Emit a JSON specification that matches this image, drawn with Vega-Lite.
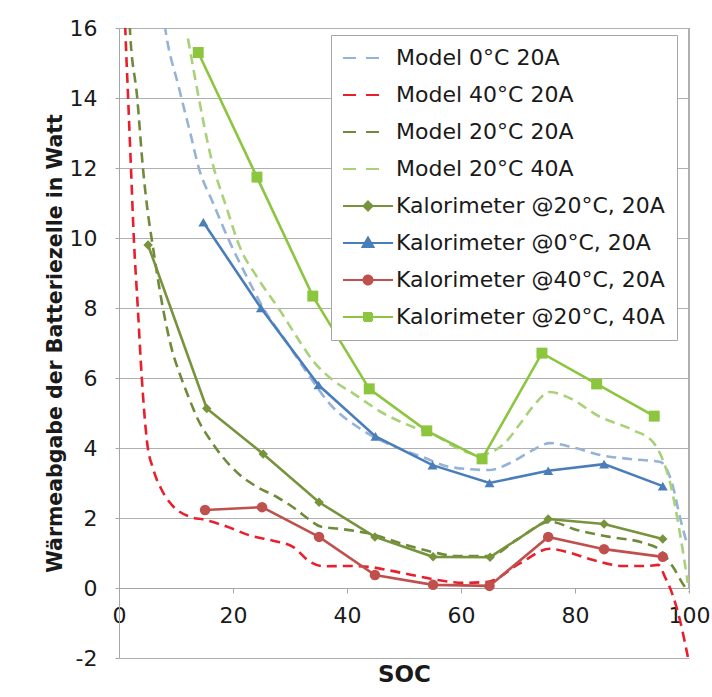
{
  "$schema": "https://vega.github.io/schema/vega-lite/v6.json",
  "autosize": {"type": "none"},
  "width": 570,
  "height": 630,
  "padding": {"left": 119, "top": 28, "right": 23, "bottom": 39},
  "background": "white",
  "config": {
    "font": "DejaVu Sans",
    "view": {"stroke": null},
    "axis": {"labelFont": "DejaVu Sans", "titleFont": "DejaVu Sans", "labelColor": "#1a1a1a", "titleColor": "#1a1a1a"}
  },
  "data": {
    "values": [
      {"s": "Model 0°C 20A", "soc": 7.3, "w": 17},
      {"s": "Model 0°C 20A", "soc": 8.1, "w": 16},
      {"s": "Model 0°C 20A", "soc": 10.5, "w": 14.3},
      {"s": "Model 0°C 20A", "soc": 12.5, "w": 13.0},
      {"s": "Model 0°C 20A", "soc": 14.0, "w": 12.0},
      {"s": "Model 0°C 20A", "soc": 16.5, "w": 11.0},
      {"s": "Model 0°C 20A", "soc": 19.5, "w": 9.86},
      {"s": "Model 0°C 20A", "soc": 22.4, "w": 8.9},
      {"s": "Model 0°C 20A", "soc": 25.3, "w": 8.0},
      {"s": "Model 0°C 20A", "soc": 29.5, "w": 7.0},
      {"s": "Model 0°C 20A", "soc": 33.5, "w": 6.03},
      {"s": "Model 0°C 20A", "soc": 36.5, "w": 5.35},
      {"s": "Model 0°C 20A", "soc": 42.8, "w": 4.5},
      {"s": "Model 0°C 20A", "soc": 47.5, "w": 4.1},
      {"s": "Model 0°C 20A", "soc": 53.3, "w": 3.74},
      {"s": "Model 0°C 20A", "soc": 58.0, "w": 3.46},
      {"s": "Model 0°C 20A", "soc": 65.0, "w": 3.37},
      {"s": "Model 0°C 20A", "soc": 68.6, "w": 3.57},
      {"s": "Model 0°C 20A", "soc": 72.6, "w": 3.94},
      {"s": "Model 0°C 20A", "soc": 75.6, "w": 4.14},
      {"s": "Model 0°C 20A", "soc": 80.0, "w": 4.0},
      {"s": "Model 0°C 20A", "soc": 84.4, "w": 3.8},
      {"s": "Model 0°C 20A", "soc": 90.0, "w": 3.68},
      {"s": "Model 0°C 20A", "soc": 95.0, "w": 3.6},
      {"s": "Model 0°C 20A", "soc": 97.2, "w": 2.89},
      {"s": "Model 0°C 20A", "soc": 98.4, "w": 2.03},
      {"s": "Model 0°C 20A", "soc": 99.6, "w": 1.29},

      {"s": "Model 40°C 20A", "soc": 0.9, "w": 17},
      {"s": "Model 40°C 20A", "soc": 1.1, "w": 16},
      {"s": "Model 40°C 20A", "soc": 1.6, "w": 14},
      {"s": "Model 40°C 20A", "soc": 2.1, "w": 12},
      {"s": "Model 40°C 20A", "soc": 2.6, "w": 10},
      {"s": "Model 40°C 20A", "soc": 3.3, "w": 8},
      {"s": "Model 40°C 20A", "soc": 4.0, "w": 6},
      {"s": "Model 40°C 20A", "soc": 4.9, "w": 4.2},
      {"s": "Model 40°C 20A", "soc": 6.0, "w": 3.4},
      {"s": "Model 40°C 20A", "soc": 7.5, "w": 2.8},
      {"s": "Model 40°C 20A", "soc": 9.3, "w": 2.37},
      {"s": "Model 40°C 20A", "soc": 12.5, "w": 2.03},
      {"s": "Model 40°C 20A", "soc": 15.0, "w": 1.95},
      {"s": "Model 40°C 20A", "soc": 19.0, "w": 1.75},
      {"s": "Model 40°C 20A", "soc": 23.0, "w": 1.5},
      {"s": "Model 40°C 20A", "soc": 27.0, "w": 1.35},
      {"s": "Model 40°C 20A", "soc": 30.6, "w": 1.17},
      {"s": "Model 40°C 20A", "soc": 33.5, "w": 0.75},
      {"s": "Model 40°C 20A", "soc": 36.0, "w": 0.62},
      {"s": "Model 40°C 20A", "soc": 40.0, "w": 0.63},
      {"s": "Model 40°C 20A", "soc": 44.0, "w": 0.6},
      {"s": "Model 40°C 20A", "soc": 47.5, "w": 0.5},
      {"s": "Model 40°C 20A", "soc": 51.4, "w": 0.37},
      {"s": "Model 40°C 20A", "soc": 55.8, "w": 0.23},
      {"s": "Model 40°C 20A", "soc": 60.4, "w": 0.15},
      {"s": "Model 40°C 20A", "soc": 64.5, "w": 0.17},
      {"s": "Model 40°C 20A", "soc": 70.4, "w": 0.71},
      {"s": "Model 40°C 20A", "soc": 75.6, "w": 1.12},
      {"s": "Model 40°C 20A", "soc": 78.6, "w": 1.03},
      {"s": "Model 40°C 20A", "soc": 83.2, "w": 0.8},
      {"s": "Model 40°C 20A", "soc": 88.4, "w": 0.63},
      {"s": "Model 40°C 20A", "soc": 92.6, "w": 0.63},
      {"s": "Model 40°C 20A", "soc": 94.6, "w": 0.66},
      {"s": "Model 40°C 20A", "soc": 95.8, "w": 0.31},
      {"s": "Model 40°C 20A", "soc": 97.0, "w": -0.14},
      {"s": "Model 40°C 20A", "soc": 98.4, "w": -0.91},
      {"s": "Model 40°C 20A", "soc": 99.3, "w": -1.57},
      {"s": "Model 40°C 20A", "soc": 99.8, "w": -1.97},

      {"s": "Model 20°C 20A", "soc": 1.6, "w": 17},
      {"s": "Model 20°C 20A", "soc": 1.9, "w": 16},
      {"s": "Model 20°C 20A", "soc": 3.2, "w": 14},
      {"s": "Model 20°C 20A", "soc": 4.2, "w": 12},
      {"s": "Model 20°C 20A", "soc": 5.0, "w": 10.8},
      {"s": "Model 20°C 20A", "soc": 5.9, "w": 9.8},
      {"s": "Model 20°C 20A", "soc": 7.7, "w": 8.0},
      {"s": "Model 20°C 20A", "soc": 9.3, "w": 6.8},
      {"s": "Model 20°C 20A", "soc": 10.7, "w": 6.1},
      {"s": "Model 20°C 20A", "soc": 12.1, "w": 5.5},
      {"s": "Model 20°C 20A", "soc": 13.9, "w": 4.8},
      {"s": "Model 20°C 20A", "soc": 16.0, "w": 4.23},
      {"s": "Model 20°C 20A", "soc": 18.2, "w": 3.74},
      {"s": "Model 20°C 20A", "soc": 21.2, "w": 3.23},
      {"s": "Model 20°C 20A", "soc": 24.2, "w": 2.89},
      {"s": "Model 20°C 20A", "soc": 27.7, "w": 2.6},
      {"s": "Model 20°C 20A", "soc": 31.2, "w": 2.23},
      {"s": "Model 20°C 20A", "soc": 33.0, "w": 2.0},
      {"s": "Model 20°C 20A", "soc": 35.5, "w": 1.75},
      {"s": "Model 20°C 20A", "soc": 38.8, "w": 1.69},
      {"s": "Model 20°C 20A", "soc": 43.5, "w": 1.57},
      {"s": "Model 20°C 20A", "soc": 51.0, "w": 1.2},
      {"s": "Model 20°C 20A", "soc": 55.0, "w": 1.03},
      {"s": "Model 20°C 20A", "soc": 59.3, "w": 0.91},
      {"s": "Model 20°C 20A", "soc": 65.0, "w": 0.91},
      {"s": "Model 20°C 20A", "soc": 70.0, "w": 1.4},
      {"s": "Model 20°C 20A", "soc": 75.6, "w": 1.89},
      {"s": "Model 20°C 20A", "soc": 80.3, "w": 1.66},
      {"s": "Model 20°C 20A", "soc": 86.1, "w": 1.46},
      {"s": "Model 20°C 20A", "soc": 92.0, "w": 1.29},
      {"s": "Model 20°C 20A", "soc": 94.9, "w": 1.09},
      {"s": "Model 20°C 20A", "soc": 97.2, "w": 0.6},
      {"s": "Model 20°C 20A", "soc": 99.3, "w": 0.03},
      {"s": "Model 20°C 20A", "soc": 100.0, "w": -0.1},

      {"s": "Model 20°C 40A", "soc": 12.1, "w": 15.7},
      {"s": "Model 20°C 40A", "soc": 14.0, "w": 14.0},
      {"s": "Model 20°C 40A", "soc": 16.0, "w": 12.4},
      {"s": "Model 20°C 40A", "soc": 19.0, "w": 10.8},
      {"s": "Model 20°C 40A", "soc": 21.2, "w": 9.74},
      {"s": "Model 20°C 40A", "soc": 24.2, "w": 8.89},
      {"s": "Model 20°C 40A", "soc": 28.2, "w": 7.94},
      {"s": "Model 20°C 40A", "soc": 31.2, "w": 7.17},
      {"s": "Model 20°C 40A", "soc": 34.0, "w": 6.5},
      {"s": "Model 20°C 40A", "soc": 37.5, "w": 5.94},
      {"s": "Model 20°C 40A", "soc": 41.0, "w": 5.57},
      {"s": "Model 20°C 40A", "soc": 46.3, "w": 5.0},
      {"s": "Model 20°C 40A", "soc": 51.6, "w": 4.6},
      {"s": "Model 20°C 40A", "soc": 55.0, "w": 4.4},
      {"s": "Model 20°C 40A", "soc": 60.0, "w": 3.95},
      {"s": "Model 20°C 40A", "soc": 63.0, "w": 3.8},
      {"s": "Model 20°C 40A", "soc": 67.4, "w": 4.1},
      {"s": "Model 20°C 40A", "soc": 70.4, "w": 4.7},
      {"s": "Model 20°C 40A", "soc": 72.7, "w": 5.2},
      {"s": "Model 20°C 40A", "soc": 75.6, "w": 5.6},
      {"s": "Model 20°C 40A", "soc": 78.6, "w": 5.46},
      {"s": "Model 20°C 40A", "soc": 84.4, "w": 4.89},
      {"s": "Model 20°C 40A", "soc": 90.2, "w": 4.51},
      {"s": "Model 20°C 40A", "soc": 93.7, "w": 4.17},
      {"s": "Model 20°C 40A", "soc": 95.4, "w": 3.66},
      {"s": "Model 20°C 40A", "soc": 96.7, "w": 3.0},
      {"s": "Model 20°C 40A", "soc": 98.4, "w": 1.57},
      {"s": "Model 20°C 40A", "soc": 99.8, "w": 0.14},

      {"s": "Kalorimeter @20°C, 20A", "soc": 5.1, "w": 9.8},
      {"s": "Kalorimeter @20°C, 20A", "soc": 15.4, "w": 5.13},
      {"s": "Kalorimeter @20°C, 20A", "soc": 25.3, "w": 3.83},
      {"s": "Kalorimeter @20°C, 20A", "soc": 35.1, "w": 2.45},
      {"s": "Kalorimeter @20°C, 20A", "soc": 44.9, "w": 1.46},
      {"s": "Kalorimeter @20°C, 20A", "soc": 55.1, "w": 0.89},
      {"s": "Kalorimeter @20°C, 20A", "soc": 65.1, "w": 0.88},
      {"s": "Kalorimeter @20°C, 20A", "soc": 75.3, "w": 1.97},
      {"s": "Kalorimeter @20°C, 20A", "soc": 85.1, "w": 1.83},
      {"s": "Kalorimeter @20°C, 20A", "soc": 95.4, "w": 1.4},

      {"s": "Kalorimeter @0°C, 20A", "soc": 14.8, "w": 10.45},
      {"s": "Kalorimeter @0°C, 20A", "soc": 24.9, "w": 8.0},
      {"s": "Kalorimeter @0°C, 20A", "soc": 35.0, "w": 5.8},
      {"s": "Kalorimeter @0°C, 20A", "soc": 45.0, "w": 4.33},
      {"s": "Kalorimeter @0°C, 20A", "soc": 55.0, "w": 3.51},
      {"s": "Kalorimeter @0°C, 20A", "soc": 65.0, "w": 3.0},
      {"s": "Kalorimeter @0°C, 20A", "soc": 75.3, "w": 3.35},
      {"s": "Kalorimeter @0°C, 20A", "soc": 85.1, "w": 3.54},
      {"s": "Kalorimeter @0°C, 20A", "soc": 95.4, "w": 2.91},

      {"s": "Kalorimeter @40°C, 20A", "soc": 15.1, "w": 2.23},
      {"s": "Kalorimeter @40°C, 20A", "soc": 25.1, "w": 2.31},
      {"s": "Kalorimeter @40°C, 20A", "soc": 35.1, "w": 1.46},
      {"s": "Kalorimeter @40°C, 20A", "soc": 44.9, "w": 0.37},
      {"s": "Kalorimeter @40°C, 20A", "soc": 55.1, "w": 0.09},
      {"s": "Kalorimeter @40°C, 20A", "soc": 65.0, "w": 0.06},
      {"s": "Kalorimeter @40°C, 20A", "soc": 75.3, "w": 1.46},
      {"s": "Kalorimeter @40°C, 20A", "soc": 85.1, "w": 1.11},
      {"s": "Kalorimeter @40°C, 20A", "soc": 95.4, "w": 0.89},

      {"s": "Kalorimeter @20°C, 40A", "soc": 13.9, "w": 15.3},
      {"s": "Kalorimeter @20°C, 40A", "soc": 24.2, "w": 11.74},
      {"s": "Kalorimeter @20°C, 40A", "soc": 34.0, "w": 8.34},
      {"s": "Kalorimeter @20°C, 40A", "soc": 43.9, "w": 5.69},
      {"s": "Kalorimeter @20°C, 40A", "soc": 54.0, "w": 4.49},
      {"s": "Kalorimeter @20°C, 40A", "soc": 63.7, "w": 3.69},
      {"s": "Kalorimeter @20°C, 40A", "soc": 74.2, "w": 6.71},
      {"s": "Kalorimeter @20°C, 40A", "soc": 83.8, "w": 5.83},
      {"s": "Kalorimeter @20°C, 40A", "soc": 93.9, "w": 4.91}
    ]
  },
  "encoding": {
    "x": {
      "field": "soc", "type": "quantitative",
      "scale": {"domain": [0, 100], "nice": false, "zero": false},
      "axis": {
        "title": "SOC", "titleFontSize": 23, "titleFontWeight": "bold", "titlePadding": 37,
        "offset": -70, "values": [0, 20, 40, 60, 80, 100], "grid": false,
        "labelFontSize": 22, "labelPadding": 12, "tickSize": 5, "tickColor": "#A6A6A6",
        "domainColor": "#A6A6A6", "labelFlush": false, "labelOverlap": false
      }
    },
    "y": {
      "field": "w", "type": "quantitative",
      "scale": {"domain": [-2, 16], "nice": false, "zero": false},
      "axis": {
        "title": "Wärmeabgabe der Batteriezelle in Watt", "titleFontSize": 20.5, "titleFontWeight": "bold", "titlePadding": 4,
        "values": [-2, 0, 2, 4, 6, 8, 10, 12, 14, 16], "labelExpr": "'' + datum.value",
        "grid": true, "gridColor": "#B0B0B0", "gridWidth": 1.2,
        "labelFontSize": 22, "labelPadding": 18, "tickSize": 4, "tickColor": "#A6A6A6",
        "domainColor": "#A6A6A6", "labelFlush": false, "labelOverlap": false
      }
    }
  },
  "layer": [
    {
      "mark": {"type": "rule", "color": "#B0B0B0", "strokeWidth": 1.2},
      "encoding": {"x": {"datum": 100}, "y": {"datum": 0}, "y2": {"datum": 16}}
    },
    {
      "transform": [{"filter": "indexof(datum.s,'Model')===0"}],
      "mark": {"type": "line", "strokeDash": [10, 6], "strokeWidth": 2.6, "clip": true, "interpolate": "monotone"},
      "encoding": {
        "color": {
          "field": "s", "type": "nominal",
          "scale": {
            "domain": ["Model 0°C 20A", "Model 40°C 20A", "Model 20°C 20A", "Model 20°C 40A", "Kalorimeter @20°C, 20A", "Kalorimeter @0°C, 20A", "Kalorimeter @40°C, 20A", "Kalorimeter @20°C, 40A"],
            "range": ["#95B3D7", "#E8202E", "#6F8A3A", "#A9D179", "#77933C", "#4A7EBB", "#C0504D", "#8CC63F"]
          },
          "legend": {
            "orient": "none", "legendX": 212, "legendY": 7, "title": null,
            "padding": 12, "fillColor": "white", "strokeColor": "#A6A6A6",
            "labelFont": "DejaVu Sans", "labelFontSize": 22, "labelColor": "#1a1a1a", "labelLimit": 400,
            "symbolSize": 100, "symbolStrokeWidth": 2, "symbolOffset": 14, "labelOffset": 17,
            "rowPadding": 15, "clipHeight": 22,
            "encoding": {
              "symbols": {
                "shape": {"value": {"expr": "datum.value=='Kalorimeter @20°C, 20A' ? 'M-5,0H5M0,-0.9L0.9,0L0,0.9L-0.9,0Z' : datum.value=='Kalorimeter @0°C, 20A' ? 'M-5,0H5M0,-1.1L1.1,0.8L-1.1,0.8Z' : datum.value=='Kalorimeter @40°C, 20A' ? 'M-5,0H5M-0.9,0A0.9,0.9,0,1,0,0.9,0A0.9,0.9,0,1,0,-0.9,0Z' : datum.value=='Kalorimeter @20°C, 40A' ? 'M-5,0H5M-0.8,-0.8H0.8V0.8H-0.8Z' : 'M-5,0H2.4'"}},
                "strokeDash": {"value": {"expr": "indexof(datum.value,'Model')===0 ? [13,10] : [1,0]"}},
                "fill": {"value": {"expr": "scale('color', datum.value)"}},
                "stroke": {"value": {"expr": "scale('color', datum.value)"}}
              }
            }
          }
        }
      }
    },
    {
      "transform": [{"filter": "indexof(datum.s,'Kalorimeter')===0"}],
      "mark": {"type": "line", "strokeWidth": 2.6},
      "encoding": {"color": {"field": "s", "type": "nominal"}}
    },
    {
      "transform": [{"filter": "indexof(datum.s,'Kalorimeter')===0"}],
      "mark": {"type": "point", "filled": true, "opacity": 1},
      "encoding": {
        "color": {"field": "s", "type": "nominal"},
        "shape": {
          "field": "s", "type": "nominal", "legend": null,
          "scale": {"domain": ["Kalorimeter @20°C, 20A", "Kalorimeter @0°C, 20A", "Kalorimeter @40°C, 20A", "Kalorimeter @20°C, 40A"], "range": ["diamond", "triangle-up", "circle", "square"]}
        },
        "size": {
          "field": "s", "type": "nominal", "legend": null,
          "scale": {"domain": ["Kalorimeter @20°C, 20A", "Kalorimeter @0°C, 20A", "Kalorimeter @40°C, 20A", "Kalorimeter @20°C, 40A"], "range": [90, 120, 110, 150]}
        }
      }
    }
  ]
}
